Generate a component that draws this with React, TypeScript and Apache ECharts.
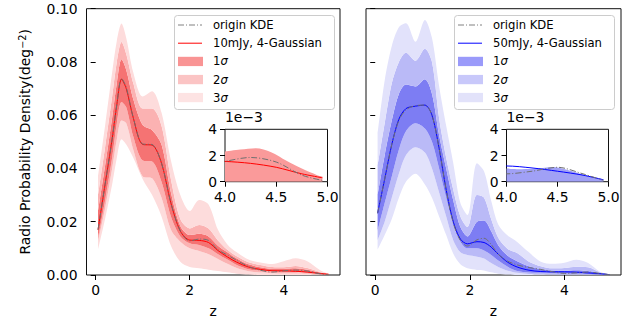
import React, { useEffect, useRef } from "react";
import * as echarts from "echarts";

// ---------- data: left panel (10mJy) ----------
const xL = [0.05, 0.2, 0.35, 0.45, 0.55, 0.65, 0.8, 1.0, 1.2, 1.4, 1.6, 1.8, 2.0, 2.2, 2.4, 2.6, 2.8, 3.0, 3.25, 3.5, 3.75, 4.0, 4.25, 4.5, 4.75, 4.95];
const lineL = [0.017, 0.034, 0.051, 0.064, 0.0735, 0.070, 0.059, 0.049, 0.0488, 0.042, 0.027, 0.0165, 0.0131, 0.013, 0.0122, 0.0092, 0.0068, 0.0048, 0.0030, 0.0021, 0.0016, 0.00155, 0.0014, 0.0011, 0.0006, 0.0003];
const kdeL = [0.017, 0.034, 0.051, 0.064, 0.0738, 0.0705, 0.059, 0.0492, 0.049, 0.042, 0.027, 0.0165, 0.0128, 0.0135, 0.0130, 0.0095, 0.0075, 0.0055, 0.0032, 0.0018, 0.0011, 0.00155, 0.00185, 0.0015, 0.0005, 0.0001];
const hi1L = [0.024, 0.041, 0.059, 0.072, 0.081, 0.077, 0.066, 0.0563, 0.0544, 0.049, 0.031, 0.0184, 0.015, 0.0155, 0.0145, 0.011, 0.0085, 0.0062, 0.0040, 0.0029, 0.0023, 0.0023, 0.00255, 0.0020, 0.0010, 0.0004];
const lo1L = [0.0139, 0.028, 0.044, 0.057, 0.065, 0.063, 0.052, 0.043, 0.0426, 0.035, 0.022, 0.0145, 0.0119, 0.0113, 0.0100, 0.0078, 0.0058, 0.0038, 0.0022, 0.0016, 0.0013, 0.0012, 0.0011, 0.0008, 0.0004, 0.0001];
const hi2L = [0.030, 0.048, 0.067, 0.080, 0.0875, 0.083, 0.072, 0.0625, 0.0625, 0.056, 0.036, 0.021, 0.0175, 0.0188, 0.0175, 0.013, 0.0095, 0.0070, 0.0048, 0.0038, 0.0030, 0.0029, 0.0034, 0.0026, 0.0012, 0.0004];
const lo2L = [0.0126, 0.025, 0.040, 0.051, 0.058, 0.057, 0.047, 0.037, 0.0363, 0.029, 0.017, 0.0125, 0.010, 0.009, 0.0078, 0.006, 0.0042, 0.0026, 0.0014, 0.0009, 0.0007, 0.0006, 0.0006, 0.0005, 0.0002, 0];
const hi3L = [0.037, 0.056, 0.076, 0.088, 0.0944, 0.089, 0.076, 0.067, 0.069, 0.061, 0.043, 0.030, 0.0240, 0.0282, 0.0265, 0.017, 0.0115, 0.0085, 0.0058, 0.0047, 0.0041, 0.0052, 0.0063, 0.0052, 0.0021, 0.0004];
const lo3L = [0.0095, 0.021, 0.034, 0.044, 0.051, 0.049, 0.044, 0.036, 0.030, 0.022, 0.011, 0.005, 0.003, 0.0025, 0.002, 0.0015, 0.001, 0.0005, 0.0002, 0, 0, 0, 0, 0, 0, 0];

// ---------- data: right panel (50mJy) ----------
const xR = [0.05, 0.2, 0.35, 0.5, 0.65, 0.85, 1.05, 1.2, 1.35, 1.5, 1.65, 1.8, 1.95, 2.15, 2.3, 2.45, 2.6, 2.8, 3.0, 3.25, 3.5, 3.75, 4.0, 4.25, 4.5, 4.75, 4.95];
const lineR = [0.0232, 0.036, 0.049, 0.0585, 0.0625, 0.0634, 0.0638, 0.060, 0.0476, 0.032, 0.020, 0.0135, 0.0117, 0.0125, 0.0122, 0.0105, 0.0078, 0.0048, 0.0030, 0.0018, 0.0013, 0.0012, 0.0012, 0.00105, 0.0008, 0.0005, 0.00015];
const kdeR = [0.0232, 0.036, 0.049, 0.058, 0.062, 0.0636, 0.0638, 0.060, 0.0476, 0.032, 0.0195, 0.013, 0.0109, 0.0132, 0.0138, 0.0115, 0.0078, 0.0052, 0.0038, 0.0028, 0.0021, 0.0012, 0.0006, 0.0008, 0.0011, 0.0006, 0.0001];
const hi1R = [0.030, 0.045, 0.058, 0.068, 0.0715, 0.0708, 0.0735, 0.068, 0.0526, 0.040, 0.028, 0.018, 0.0145, 0.020, 0.0205, 0.0165, 0.0112, 0.0072, 0.0052, 0.0033, 0.0022, 0.0017, 0.0016, 0.0018, 0.0015, 0.0008, 0.0002];
const lo1R = [0.0165, 0.027, 0.037, 0.047, 0.054, 0.057, 0.055, 0.050, 0.040, 0.029, 0.019, 0.0125, 0.010, 0.010, 0.0092, 0.0075, 0.0054, 0.0031, 0.0015, 0.0009, 0.0008, 0.0007, 0.0006, 0.0005, 0.0004, 0.0002, 0.0001];
const hi2R = [0.041, 0.057, 0.072, 0.080, 0.0835, 0.0805, 0.085, 0.080, 0.059, 0.044, 0.032, 0.022, 0.018, 0.030, 0.029, 0.021, 0.014, 0.0098, 0.0083, 0.0050, 0.0033, 0.0025, 0.0026, 0.0031, 0.0029, 0.0010, 0.0002];
const lo2R = [0.013, 0.020, 0.029, 0.038, 0.045, 0.048, 0.046, 0.040, 0.031, 0.022, 0.013, 0.0085, 0.0075, 0.0069, 0.0062, 0.0045, 0.003, 0.0016, 0.0008, 0.0004, 0.0003, 0.0002, 0.0002, 0.0002, 0.0001, 0.0001, 0];
const hi3R = [0.053, 0.073, 0.086, 0.093, 0.0945, 0.0876, 0.0958, 0.089, 0.071, 0.056, 0.042, 0.027, 0.0225, 0.042, 0.039, 0.028, 0.019, 0.0148, 0.0124, 0.0085, 0.0050, 0.0042, 0.0046, 0.0057, 0.0045, 0.0012, 0.0002];
const lo3R = [0.0095, 0.015, 0.021, 0.029, 0.035, 0.038, 0.034, 0.029, 0.022, 0.015, 0.008, 0.004, 0.0025, 0.0019, 0.0017, 0.0010, 0.0005, 0.0002, 0, 0, 0, 0, 0, 0, 0, 0, 0];

// ---------- inset bands (z from 4 to 5) ----------
const insetX = [4.0, 4.15, 4.3, 4.45, 4.6, 4.75, 4.9, 4.95];
const insetBandL = [0.0023, 0.00245, 0.00255, 0.00225, 0.0016, 0.0010, 0.0005, 0.0004];
const insetBandR = [0.0010, 0.00095, 0.0010, 0.00112, 0.0009, 0.00055, 0.00025, 0.0002];

// ---------- ticks / labels ----------
const mainXTicks = [0, 2, 4];
const legendLabelsL = ["origin KDE", "10mJy, 4-Gaussian", "1σ", "2σ", "3σ"];
const legendLabelsR = ["origin KDE", "50mJy, 4-Gaussian", "1σ", "2σ", "3σ"];

const FONT = "DejaVu Sans";
const TICK_FS = 13.9;
const LEG_FS = 11.6;

function pairs(x: number[], y: number[]) {
  return x.map((v, i) => [v, y[i]]);
}
// value first, z second: so that the stacked dimension is the y value
function pairsYX(x: number[], y: number[]) {
  return x.map((v, i) => [y[i], v]);
}
function diff(a: number[], b: number[]) {
  return a.map((v, i) => Math.max(0, v - b[i]));
}

function bandSeries(
  x: number[], lo3: number[], lo2: number[], lo1: number[], hi1: number[], hi2: number[], hi3: number[],
  c1: string, c2: string, c3: string, idx: number, stack: string
) {
  const layers = [
    { vals: lo3, color: "" },
    { vals: diff(lo2, lo3), color: c3 },
    { vals: diff(lo1, lo2), color: c2 },
    { vals: diff(hi1, lo1), color: c1 },
    { vals: diff(hi2, hi1), color: c2 },
    { vals: diff(hi3, hi2), color: c3 },
  ];
  return layers.map((l) => ({
    type: "line",
    xAxisIndex: idx,
    yAxisIndex: idx,
    stack,
    data: pairsYX(x, l.vals),
    encode: { x: 1, y: 0 },
    symbol: "none",
    showSymbol: false,
    smooth: 0.3,
    silent: true,
    emphasis: { disabled: true },
    lineStyle: { width: 0, opacity: 0 },
    areaStyle: l.color ? { color: l.color, opacity: 1 } : undefined,
    z: 1,
  }));
}

function lineSeries(x: number[], y: number[], idx: number, color: string, dashed: boolean, z: number) {
  return {
    type: "line",
    xAxisIndex: idx,
    yAxisIndex: idx,
    data: pairs(x, y),
    symbol: "none",
    showSymbol: false,
    smooth: 0.3,
    silent: true,
    emphasis: { disabled: true },
    lineStyle: { color, width: 1, type: dashed ? [6, 2, 1, 2] : "solid" },
    z,
  };
}

function legendGraphic(x0: number, labels: string[], lineColor: string, patches: string[]) {
  const rows = [25, 43.2, 61.4, 79.5, 97.5];
  const els: any[] = [
    {
      type: "rect",
      shape: { x: x0 + 0.5, y: 15.5, width: 160, height: 94, r: 3 },
      style: { fill: "rgba(255,255,255,0.8)", stroke: "#cccccc", lineWidth: 1 },
      z: 100,
    },
    {
      type: "line",
      shape: { x1: x0 + 4, y1: rows[0], x2: x0 + 28, y2: rows[0] },
      style: { stroke: "#808080", lineWidth: 1, lineDash: [6, 2, 1, 2] },
      z: 101,
    },
    {
      type: "line",
      shape: { x1: x0 + 4, y1: rows[1], x2: x0 + 28, y2: rows[1] },
      style: { stroke: lineColor, lineWidth: 1 },
      z: 101,
    },
  ];
  for (let k = 0; k < 3; k++) {
    els.push({
      type: "rect",
      shape: { x: x0 + 4, y: rows[k + 2] - 4.6, width: 25, height: 9.3 },
      style: { fill: patches[k] },
      z: 101,
    });
  }
  labels.forEach((t, k) => {
    const isSigma = k >= 2;
    els.push({
      type: "text",
      x: x0 + 39,
      y: rows[k],
      style: {
        text: isSigma ? `${t[0]}{i|σ}` : t,
        rich: { i: { fontStyle: "italic", fontSize: LEG_FS, fontFamily: FONT, fill: "#000" } },
        fontSize: LEG_FS,
        fontFamily: FONT,
        fill: "#000",
        verticalAlign: "middle",
        align: "left",
      },
      z: 102,
    });
  });
  return els;
}

const axisTextStyle = { color: "#000", fontSize: TICK_FS, fontFamily: FONT };
const tickStyle = { show: true, inside: false, length: 5, lineStyle: { color: "#000", width: 1 } };

function mainX(gridIndex: number) {
  return {
    type: "value",
    gridIndex,
    min: -0.195,
    max: 5.195,
    name: "z",
    nameLocation: "middle",
    nameGap: 29,
    nameTextStyle: { color: "#000", fontSize: TICK_FS, fontFamily: FONT },
    axisLine: { show: false },
    axisTick: { ...tickStyle, customValues: mainXTicks },
    axisLabel: { ...axisTextStyle, margin: 8, customValues: mainXTicks, formatter: (v: number) => String(v) },
    splitLine: { show: false },
  };
}
function mainY(gridIndex: number, showLabels: boolean) {
  return {
    type: "value",
    gridIndex,
    min: 0,
    max: 0.1,
    interval: 0.02,
    axisLine: { show: false },
    axisTick: tickStyle,
    axisLabel: { ...axisTextStyle, show: showLabels, margin: 9, formatter: (v: number) => v.toFixed(2) },
    splitLine: { show: false },
  };
}
function insetX_(gridIndex: number) {
  return {
    type: "value",
    gridIndex,
    min: 4,
    max: 5,
    interval: 0.5,
    zlevel: 1,
    axisLine: { show: false },
    axisTick: tickStyle,
    axisLabel: { ...axisTextStyle, margin: 8, formatter: (v: number) => v.toFixed(1), showMaxLabel: true, showMinLabel: true },
    splitLine: { show: false },
  };
}
function insetY_(gridIndex: number) {
  return {
    type: "value",
    gridIndex,
    min: 0,
    max: 0.004,
    interval: 0.002,
    zlevel: 1,
    name: "1e\u22123",
    nameLocation: "end",
    nameGap: 5,
    nameTextStyle: { color: "#000", fontSize: TICK_FS, fontFamily: FONT, align: "left", verticalAlign: "bottom" },
    axisLine: { show: false },
    axisTick: tickStyle,
    axisLabel: { ...axisTextStyle, margin: 8, formatter: (v: number) => String(Math.round(v * 1000)) },
    splitLine: { show: false },
  };
}

export default function App() {
  const ref = useRef<HTMLDivElement>(null);
  useEffect(() => {
    if (!ref.current) return;
    const chart = echarts.init(ref.current, undefined, { renderer: "svg" });
    const redC = ["#f57373", "#fbb2b2", "#fddcdc"];
    const blueC = ["#7d7df3", "#babaf7", "#e2e2fb"];
    const gridBase = { show: true, borderColor: "#111", borderWidth: 1, backgroundColor: "transparent", containLabel: false, outerBoundsMode: "none" };
    const insetSeries = (x: number[], y: number[], idx: number, color: string) => ({
      type: "line", xAxisIndex: idx, yAxisIndex: idx, data: pairs(x, y), symbol: "none", smooth: 0.3,
      silent: true, emphasis: { disabled: true }, lineStyle: { width: 0, opacity: 0 },
      areaStyle: { color, opacity: 1 }, z: 1, zlevel: 1,
    });
    const option: any = {
      animation: false,
      backgroundColor: "#ffffff",
      textStyle: { fontFamily: FONT },
      grid: [
        { ...gridBase, left: 86.5, top: 8.7, width: 253.5, height: 266.3 },
        { ...gridBase, left: 366, top: 8.7, width: 255, height: 266.3 },
        { ...gridBase, left: 225, top: 129.3, width: 102.5, height: 52.4, backgroundColor: "#ffffff", zlevel: 1 },
        { ...gridBase, left: 506.5, top: 129.3, width: 102, height: 52.4, backgroundColor: "#ffffff", zlevel: 1 },
      ],
      xAxis: [mainX(0), mainX(1), insetX_(2), insetX_(3)],
      yAxis: [
        {
          ...mainY(0, true),
          name: "Radio Probability Density(deg{sup|\u22122})",
          nameLocation: "middle",
          nameGap: 55,
          nameTextStyle: {
            color: "#000",
            fontSize: TICK_FS,
            fontFamily: FONT,
            rich: { sup: { fontSize: 9.7, fontFamily: FONT, color: "#000", verticalAlign: "top", lineHeight: 10 } },
          },
        },
        mainY(1, false),
        insetY_(2),
        insetY_(3),
      ],
      series: [
        ...bandSeries(xL, lo3L, lo2L, lo1L, hi1L, hi2L, hi3L, redC[0], redC[1], redC[2], 0, "bandL"),
        lineSeries(xL, lineL, 0, "#ff0000", false, 3),
        lineSeries(xL, kdeL, 0, "#707070", true, 4),
        ...bandSeries(xR, lo3R, lo2R, lo1R, hi1R, hi2R, hi3R, blueC[0], blueC[1], blueC[2], 1, "bandR"),
        lineSeries(xR, lineR, 1, "#0000ff", false, 3),
        lineSeries(xR, kdeR, 1, "#707070", true, 4),
        insetSeries(insetX, insetBandL, 2, "#fa9a9a"),
        { ...lineSeries(xL, lineL, 2, "#ff0000", false, 3), zlevel: 1 },
        { ...lineSeries(xL, kdeL, 2, "#707070", true, 4), zlevel: 1 },
        insetSeries(insetX, insetBandR, 3, "#a0a0f6"),
        { ...lineSeries(xR, lineR, 3, "#0000ff", false, 3), zlevel: 1 },
        { ...lineSeries(xR, kdeR, 3, "#707070", true, 4), zlevel: 1 },
      ],
      graphic: [
        ...legendGraphic(174, legendLabelsL, "#ff0000", ["#f99494", "#fbc4c4", "#fde3e3"]),
        ...legendGraphic(454, legendLabelsR, "#0000ff", ["#9a9afa", "#c8c8fa", "#e2e2fa"]),
      ],
    };
    chart.setOption(option);
    return () => chart.dispose();
  }, []);
  return (
    <div
      ref={ref}
      style={{ position: "fixed", left: 0, top: 0, width: 641, height: 322, background: "#fff" }}
    />
  );
}
